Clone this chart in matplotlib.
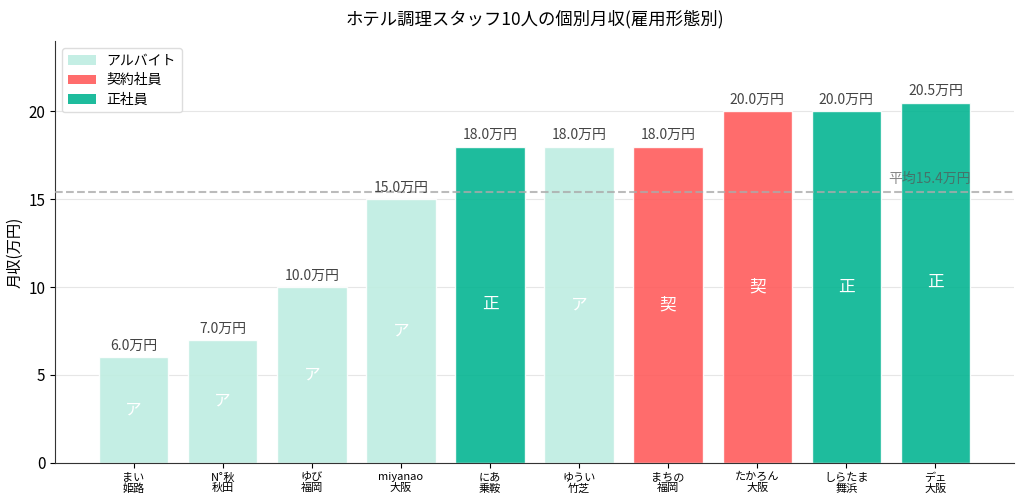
import matplotlib.pyplot as plt
import numpy as np
from matplotlib.patches import Patch

plt.rcParams['font.family'] = ['Noto Sans CJK JP', 'DejaVu Sans']

names = ['まい\n姫路', 'N˚秋\n秋田', 'ゆび\n福岡', 'miyanao\n大阪', 'にあ\n乗鞍',
         'ゆうい\n竹芝', 'まちの\n福岡', 'たかろん\n大阪', 'しらたま\n舞浜', 'デェ\n大阪']
income = [6.0, 7.0, 10.0, 15.0, 18.0, 18.0, 18.0, 20.0, 20.0, 20.5]
employment = ['ア', 'ア', 'ア', 'ア', '正', 'ア', '契', '契', '正', '正']
average = 15.4

type_names = {'ア': 'アルバイト', '契': '契約社員', '正': '正社員'}
type_colors = {'ア': '#beede1', '契': '#ff5c5c', '正': '#05b592'}

fig, ax = plt.subplots(figsize=(10.24, 5.03), dpi=100)
fig.subplots_adjust(left=0.054, right=0.99, top=0.918, bottom=0.08)

x = np.arange(len(names))
colors = [type_colors[t] for t in employment]
bars = ax.bar(x, income, width=0.78, color=colors, edgecolor='white',
              linewidth=1, alpha=0.9, zorder=2)

for bar, value, kind in zip(bars, income, employment):
    cx = bar.get_x() + bar.get_width() / 2
    ax.text(cx, value + 0.25, f'{value:.1f}万円', ha='center', va='bottom',
            fontsize=10, color='#444444', zorder=4)
    ax.text(cx, value / 2, kind, ha='center', va='center',
            fontsize=12, color='white', zorder=4)

ax.axhline(average, color='#aaaaaa', linestyle='--', linewidth=1.5, alpha=0.8, zorder=3)
ax.text(9.4, average + 0.35, f'平均{average}万円', ha='right', va='bottom',
        fontsize=10, color='#555555', alpha=0.7, zorder=4)

ax.set_xticks(x)
ax.set_xticklabels(names, fontsize=8, linespacing=1.1)
ax.set_ylim(0, 24)
ax.set_yticks([0, 5, 10, 15, 20])
ax.tick_params(axis='y', labelsize=11)
ax.set_ylabel('月収(万円)', fontsize=11)
ax.set_title('ホテル調理スタッフ10人の個別月収(雇用形態別)', fontsize=12.5, pad=12)

ax.yaxis.grid(True, color='#e6e6e6', linewidth=0.8, zorder=0)
ax.set_axisbelow(True)
ax.spines['top'].set_visible(False)
ax.spines['right'].set_visible(False)
ax.spines['left'].set_color('#333333')
ax.spines['bottom'].set_color('#333333')

handles = [Patch(facecolor=type_colors[k], alpha=0.9, label=type_names[k])
           for k in ['ア', '契', '正']]
ax.legend(handles=handles, loc='upper left', fontsize=10, framealpha=1,
          edgecolor='#dddddd', labelspacing=0.4)

fig.savefig('out.png', dpi=100)
